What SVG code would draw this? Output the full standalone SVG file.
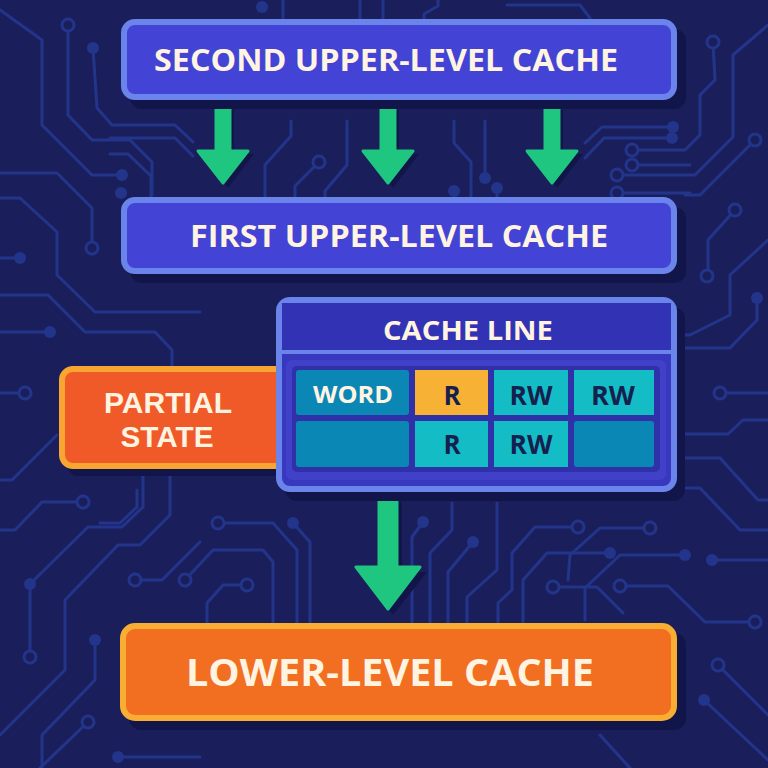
<svg xmlns="http://www.w3.org/2000/svg" width="768" height="768" viewBox="0 0 768 768">
<defs>
<style>
.tr{fill:none;stroke:#23358a;stroke-width:3;stroke-linejoin:round;stroke-linecap:round}
.dot{fill:#23358a}
.ring{fill:#1a1f5c;stroke:#23358a;stroke-width:3}
.shadow{fill:#11154a}
.blue{fill:#4343d6;stroke:#6a84ec;stroke-width:6}
.t{font-family:"Open Sans","Liberation Sans",sans-serif;font-weight:700;fill:#fff4e2;text-anchor:middle}
.t2{font-family:"Liberation Sans","Open Sans",sans-serif;font-weight:700;fill:#fff4e2;text-anchor:middle}
.td{font-family:"Open Sans","Liberation Sans",sans-serif;font-weight:700;fill:#16204f;text-anchor:middle}
.arrow{fill:#1fc67f;stroke:#1fc67f;stroke-width:3;stroke-linejoin:round}
.ashadow{fill:#11154a}
.c1{fill:#0b87b6}
.c2{fill:#14bcc6}
.c3{fill:#f7b135}
</style>
</defs>
<rect x="0" y="0" width="768" height="768" fill="#1a1f5c"/>
<g id="background-traces">
<path class="tr" d="M0,10 L42,40 L42,125 L92,175 L122,175"/><circle class="dot" cx="122" cy="175" r="6"/>
<path class="tr" d="M68,25 L68,115 L92,140 L130,140 L152,162 L152,195"/><circle class="ring" cx="68" cy="25" r="6"/>
<path class="tr" d="M93,48 L97,108 L112,125 L175,125 L193,142"/><circle class="dot" cx="93" cy="48" r="6"/>
<path class="tr" d="M0,173 L57,173 L92,208 L92,248"/><circle class="ring" cx="92" cy="248" r="6"/>
<path class="tr" d="M0,198 L20,198 L57,232 L57,275 L95,312 L200,312"/>
<path class="tr" d="M0,258 L20,258"/><circle class="dot" cx="20" cy="258" r="6"/>
<path class="tr" d="M0,295 L48,295 L85,332 L155,332 L172,350 L172,367"/>
<path class="tr" d="M0,332 L50,332"/><circle class="dot" cx="50" cy="332" r="6"/>
<path class="tr" d="M0,393 L25,393"/><circle class="ring" cx="25" cy="393" r="6"/>
<path class="tr" d="M0,480 L12,480 L57,435"/>
<path class="tr" d="M83,502 L42,502 L15,530 L0,530"/><circle class="ring" cx="83" cy="502" r="6"/>
<path class="tr" d="M143,470 L143,507 L122,527 L88,527 L30,584 L30,657"/><circle class="dot" cx="30" cy="584" r="6"/><circle class="ring" cx="30" cy="657" r="6"/>
<path class="tr" d="M170,470 L170,515 L140,545 L118,545 L65,600 L65,670 L0,735"/>
<path class="tr" d="M135,580 L162,580 L200,542"/><circle class="ring" cx="135" cy="580" r="6"/>
<path class="tr" d="M95,640 L95,680 L42,735 L42,768"/><circle class="dot" cx="95" cy="640" r="6"/>
<path class="tr" d="M88,722 L40,768"/><circle class="ring" cx="88" cy="722" r="6"/>
<path class="tr" d="M118,757 L200,757"/><circle class="dot" cx="118" cy="757" r="6"/>
<circle class="dot" cx="262" cy="7" r="6"/>
<path class="tr" d="M283,0 L283,18 M360,0 L360,18 M383,0 L383,18 M438,0 L438,6 L424,14 L424,18 M507,5 L580,5 L590,18"/>
<path class="tr" d="M713,42 L715,80 L700,95 L700,135 L685,150 L632,150"/><circle class="ring" cx="713" cy="42" r="6"/><circle class="ring" cx="632" cy="150" r="6"/>
<path class="tr" d="M768,25 L733,55 L733,137 L695,175 L617,175"/><circle class="ring" cx="617" cy="175" r="6"/>
<path class="tr" d="M673,127 L602,127 L585,143"/><circle class="dot" cx="673" cy="127" r="6"/>
<path class="tr" d="M755,140 L700,195 L685,195"/><circle class="ring" cx="755" cy="140" r="6"/>
<path class="tr" d="M735,210 L708,240 L708,275"/><circle class="ring" cx="735" cy="210" r="6"/><circle class="ring" cx="707" cy="276" r="6"/>
<path class="tr" d="M768,240 L730,275 L730,315 L690,335 L680,335"/>
<path class="tr" d="M757,298 L757,320 L730,348 L685,348"/><circle class="dot" cx="757" cy="298" r="6"/>
<path class="tr" d="M720,393 L768,393"/><circle class="ring" cx="720" cy="393" r="6"/>
<path class="tr" d="M685,434 L728,434 L743,420 L768,420"/>
<path class="tr" d="M685,458 L720,458 L758,500 L768,500"/>
<path class="tr" d="M685,488 L700,488 L740,530 L768,530"/>
<path class="tr" d="M650,528 L600,528 L570,555 L568,580"/><circle class="ring" cx="650" cy="528" r="6"/>
<path class="tr" d="M685,555 L620,555 L585,588 L585,620"/><circle class="dot" cx="685" cy="555" r="6"/>
<path class="tr" d="M712,560 L768,560"/><circle class="dot" cx="712" cy="560" r="6"/>
<path class="tr" d="M620,586 L668,586 L705,622 L755,622"/><circle class="ring" cx="620" cy="586" r="6"/><circle class="ring" cx="755" cy="622" r="6"/>
<path class="tr" d="M718,665 L768,715"/><circle class="ring" cx="718" cy="665" r="6"/>
<path class="tr" d="M704,700 L768,760"/><circle class="dot" cx="704" cy="700" r="6"/>
<path class="tr" d="M600,735 L630,768"/>
<path class="tr" d="M100,523 L120,523 L137,507 L137,490"/>
<path class="tr" d="M218,523 L273,523 L297,550 L297,623"/><circle class="ring" cx="218" cy="523" r="6"/>
<path class="tr" d="M293,523 L310,542 L310,623"/><circle class="dot" cx="293" cy="523" r="6"/>
<path class="tr" d="M185,580 L213,550 L263,550 L273,562 L273,623"/><circle class="ring" cx="185" cy="580" r="6"/>
<path class="tr" d="M247,585 L223,585 L207,603 L207,623"/><circle class="ring" cx="247" cy="585" r="6"/>
<path class="tr" d="M423,522 L412,537 L412,623"/><circle class="dot" cx="423" cy="522" r="6"/>
<path class="tr" d="M452,503 L452,530 L430,553 L430,623"/>
<path class="tr" d="M497,503 L497,570 L467,597 L467,623"/>
<path class="tr" d="M473,542 L448,572 L448,623"/><circle class="dot" cx="473" cy="542" r="6"/>
<path class="tr" d="M578,527 L535,527 L512,553 L512,590 L498,603 L498,623"/><circle class="ring" cx="578" cy="527" r="6"/>
<path class="tr" d="M610,553 L547,553 L523,580 L523,623"/><circle class="dot" cx="610" cy="553" r="6"/>
<path class="tr" d="M553,587 L597,587 L623,613"/><circle class="ring" cx="553" cy="587" r="6"/>
<path class="tr" d="M110,138 L175,138 L193,156"/>
<path class="tr" d="M110,154 L128,154 L151,176 L151,217"/>
<circle class="dot" cx="121" cy="193" r="6"/>
<path class="tr" d="M291,121 L291,136 L265,165 L265,217"/>
<path class="tr" d="M319,162 L295,186 L295,217"/><circle class="ring" cx="319" cy="162" r="6"/>
<path class="tr" d="M347,121 L347,165 L325,191 L325,217"/>
<path class="tr" d="M454,121 L454,143 L471,162 L471,217"/>
<path class="tr" d="M485,121 L485,178"/><circle class="dot" cx="485" cy="178" r="6"/>
<path class="tr" d="M454,191 L454,217"/><circle class="dot" cx="454" cy="191" r="6"/>
<path class="tr" d="M497,188 L497,217"/><circle class="dot" cx="497" cy="188" r="6"/>
<path class="tr" d="M585,158 L604,138 L672,138"/><circle class="dot" cx="672" cy="138" r="6"/>
<path class="tr" d="M632,165 L690,165"/><circle class="ring" cx="632" cy="165" r="6"/>
<path class="tr" d="M617,193 L690,193"/><circle class="ring" cx="617" cy="193" r="6"/>
</g>
<g id="connectors">
<path class="ashadow" d="M220,110 h14 v44 h20 l-26,34 l-26,-34 h18 z"/>
<path class="ashadow" d="M385,110 h14 v44 h20 l-26,34 l-26,-34 h18 z"/>
<path class="ashadow" d="M549,110 h14 v44 h20 l-26,34 l-26,-34 h18 z"/>
<path class="arrow" d="M216,105 h14 v46 h18 l-25,32 l-25,-32 h18 z"/>
<path class="arrow" d="M381,105 h14 v46 h18 l-25,32 l-25,-32 h18 z"/>
<path class="arrow" d="M545,105 h14 v46 h18 l-25,32 l-25,-32 h18 z"/>
<path class="ashadow" d="M384,506 a9,9 0 0 1 18,0 v66 h25 l-34,43 l-34,-43 h25 z"/>
<path class="arrow" d="M379,501 a9,9 0 0 1 18,0 v66 h23 l-32,42 l-32,-42 h23 z"/>
</g>
<g id="second-upper-level-cache">
<rect class="shadow" x="130" y="29" width="556" height="80" rx="12"/>
<rect class="blue" x="124" y="22" width="550" height="75" rx="11"/>
<text class="t" x="386" y="71" font-size="31" textLength="464" lengthAdjust="spacingAndGlyphs">SECOND UPPER-LEVEL CACHE</text>
</g>
<g id="first-upper-level-cache">
<rect class="shadow" x="130" y="207" width="556" height="76" rx="12"/>
<rect class="blue" x="124" y="200" width="550" height="71" rx="11"/>
<text class="t" x="399" y="247" font-size="30" textLength="418" lengthAdjust="spacingAndGlyphs">FIRST UPPER-LEVEL CACHE</text>
</g>
<g id="partial-state">
<rect class="shadow" x="67" y="375" width="220" height="101" rx="12"/>
<rect x="62" y="369" width="224" height="97" rx="11" fill="#f05a28" stroke="#f9a531" stroke-width="6"/>
<text class="t2" x="168" y="413" font-size="29" textLength="128" lengthAdjust="spacingAndGlyphs">PARTIAL</text>
<text class="t2" x="167" y="447" font-size="29" textLength="93" lengthAdjust="spacingAndGlyphs">STATE</text>
</g>
<g id="cache-line">
<rect class="shadow" x="285" y="307" width="400" height="194" rx="12"/>
<rect x="279" y="300" width="395" height="189" rx="11" fill="#3838bf" stroke="#6a84ec" stroke-width="6"/>
<rect x="282" y="303" width="389" height="49" fill="#3232b4"/>
<rect x="282" y="350" width="389" height="4" fill="#6a84ec"/>
<rect x="286" y="360" width="380" height="120" rx="6" fill="#4040c8"/>
<rect x="292" y="366" width="368" height="106" rx="5" fill="#3030a8"/>
<text class="t" x="468" y="340" font-size="27" textLength="170" lengthAdjust="spacingAndGlyphs">CACHE LINE</text>
<g id="cells">
<rect class="c1" x="296" y="370" width="113" height="45" rx="3"/>
<rect class="c3" x="415" y="370" width="73" height="45"/>
<rect class="c2" x="494" y="370" width="74" height="45"/>
<rect class="c2" x="574" y="370" width="80" height="45"/>
<rect class="c1" x="296" y="421" width="113" height="46" rx="3"/>
<rect class="c2" x="415" y="421" width="73" height="46"/>
<rect class="c2" x="494" y="421" width="74" height="46"/>
<rect class="c1" x="574" y="421" width="80" height="46" rx="3"/>
<text class="t" x="353" y="403" font-size="24" textLength="80" lengthAdjust="spacingAndGlyphs">WORD</text>
<text class="td" x="452" y="405" font-size="26">R</text>
<text class="td" x="531" y="405" font-size="26" textLength="43" lengthAdjust="spacingAndGlyphs">RW</text>
<text class="td" x="613" y="405" font-size="26" textLength="44" lengthAdjust="spacingAndGlyphs">RW</text>
<text class="td" x="452" y="454" font-size="26">R</text>
<text class="td" x="531" y="454" font-size="26" textLength="43" lengthAdjust="spacingAndGlyphs">RW</text>
</g>
</g>
<g id="lower-level-cache">
<rect class="shadow" x="129" y="633" width="557" height="97" rx="12"/>
<rect x="123" y="626" width="551" height="92" rx="12" fill="#f26f22" stroke="#f9ad33" stroke-width="6"/>
<text class="t" x="390" y="686" font-size="38" textLength="408" lengthAdjust="spacingAndGlyphs">LOWER-LEVEL CACHE</text>
</g>
</svg>
